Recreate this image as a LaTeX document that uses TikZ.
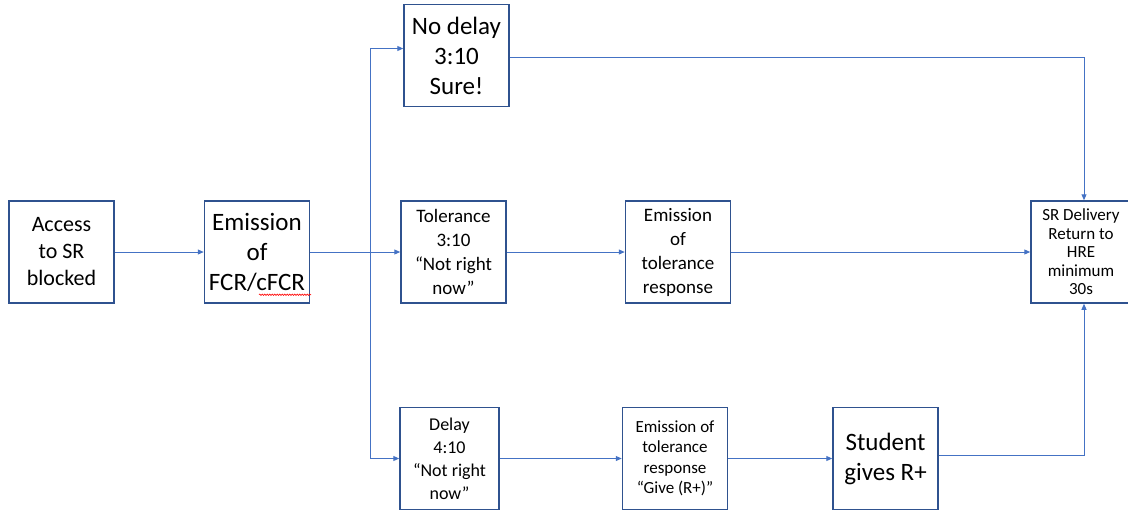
\documentclass[tikz,border=0pt]{standalone}
\usepackage{fontspec}
\setmainfont{Carlito}
\usetikzlibrary{positioning, arrows.meta, decorations.pathmorphing}

\definecolor{boxline}{RGB}{47,82,143}
\definecolor{flowline}{RGB}{68,114,196}

\begin{document}
\begin{tikzpicture}[
    x=1pt, y=1pt,
    block/.style={rectangle, draw=boxline, line width=1.5pt, minimum width=105pt, minimum height=102pt, align=center, inner sep=2pt},
    arrow/.style={-{Triangle[length=6pt, width=5pt]}, draw=flowline, line width=1pt},
    spell/.style={red, line width=0.6pt, decorate, decoration={snake, amplitude=0.7pt, segment length=2.5pt}},
]

\useasboundingbox (0,0) rectangle (1128,-515);

% Start
\node[block, font=\fontsize{22}{27}\selectfont] (access) at (61.5,-252) {Access\\to SR\\blocked};
\node[block, font=\fontsize{25}{30}\selectfont, right=89pt of access] (fcr) {Emission\\of\\FCR/cFCR};
\coordinate[right=60pt of fcr.east] (split);

% Three branches
\node[block, font=\fontsize{19}{24}\selectfont, right=90pt of fcr] (tol) {Tolerance\\3:10\\“Not right\\now”};
\node[block, font=\fontsize{25}{30}\selectfont, above=93pt of tol, xshift=3pt] (nodelay) {No delay\\3:10\\Sure!};
\node[block, font=\fontsize{18}{23}\selectfont, minimum width=99pt, below=103pt of tol, xshift=-4pt] (delay) {Delay\\4:10\\“Not right\\now”};

% Responses
\node[block, font=\fontsize{19}{24}\selectfont, right=118pt of tol] (emtol) {Emission\\of\\tolerance\\response};
\node[block, font=\fontsize{17}{20.5}\selectfont, right=122pt of delay] (emgive) {Emission of\\tolerance\\response\\“Give (R+)”};
\node[block, font=\fontsize{25}{30}\selectfont, right=104pt of emgive] (student) {Student\\gives R+};

% End
\node[block, font=\fontsize{17}{18.5}\selectfont, minimum width=100pt, right=299pt of emtol] (sr) {SR Delivery\\Return to\\HRE\\minimum\\30s};

% spell check mark under cFCR
\draw[spell] ([xshift=2pt, yshift=9pt]fcr.south) -- ([xshift=54pt, yshift=9pt]fcr.south);

%% arrows
\draw[arrow] (access) -- (fcr);
\draw[arrow] (fcr) -- (tol);
\draw[arrow] (split) |- ([yshift=7pt]nodelay.west);
\draw[arrow] (split) |- (delay);

\draw[arrow] (tol) -- (emtol);
\draw[arrow] (emtol) -- (sr);
\draw[arrow] (delay) -- (emgive);
\draw[arrow] (emgive) -- (student);

\draw[arrow] ([yshift=-2pt]nodelay.east) -| ([xshift=3pt]sr.north);
\draw[arrow] ([yshift=3pt]student.east) -| ([xshift=3pt]sr.south);

\end{tikzpicture}
\end{document}
